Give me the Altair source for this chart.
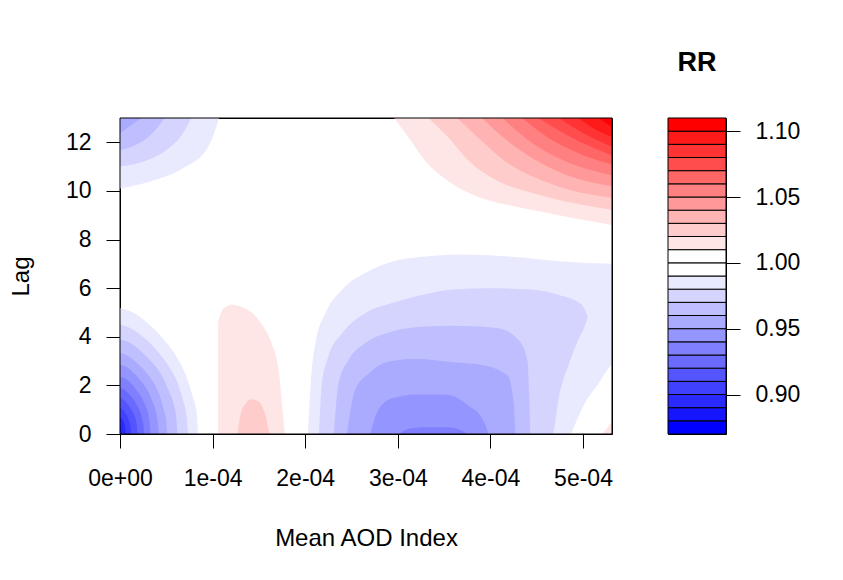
import json

import altair as alt
import pandas as pd

FONT = "Liberation Sans"

# colour key: RR band edges (0.01 apart) and the fill of each band
rr_edges = [0.87, 0.88, 0.89, 0.90, 0.91, 0.92, 0.93, 0.94, 0.95, 0.96, 0.97, 0.98,
            0.99, 1.00, 1.01, 1.02, 1.03, 1.04, 1.05, 1.06, 1.07, 1.08, 1.09, 1.10, 1.11]
rr_colors = ["#0000FF", "#1515FF", "#2A2AFF", "#4040FF", "#5555FF", "#6A6AFF",
             "#8080FF", "#9595FF", "#AAAAFF", "#BFBFFF", "#D4D4FF", "#EAEAFF",
             "#FFFFFF", "#FFFFFF",
             "#FFE6E6", "#FFCCCC", "#FFB3B3", "#FF9999", "#FF8080", "#FF6666",
             "#FF4D4D", "#FF3333", "#FF1A1A", "#FF0000"]
rr_ticks = [0.90, 0.95, 1.00, 1.05, 1.10]

aod_ticks = [0, 1e-4, 2e-4, 3e-4, 4e-4, 5e-4]
aod_tick_labels = ["0e+00", "1e-04", "2e-04", "3e-04", "4e-04", "5e-04"]
lag_ticks = [0, 2, 4, 6, 8, 10, 12]
AOD_MAX = 5.313e-4
LAG_MAX = 13

# contour regions: (RR of the band inside, [(AOD x1e-4, lag), ...])
# low-AOD, short-lag trough, filled down to lag 0
trough_left = [
    (0.985, [(0, 5.18), (0.15, 4.98), (0.30, 4.56), (0.475, 3.88), (0.62, 3.12), (0.71, 2.43), (0.78, 1.6), (0.83, 0.78), (0.843, 0)]),
    (0.975, [(0, 4.5), (0.13, 4.32), (0.26, 3.96), (0.41, 3.38), (0.54, 2.7), (0.62, 2.12), (0.68, 1.4), (0.72, 0.68), (0.734, 0)]),
    (0.965, [(0, 3.9), (0.11, 3.74), (0.22, 3.43), (0.35, 2.93), (0.46, 2.34), (0.52, 1.83), (0.58, 1.21), (0.61, 0.59), (0.62, 0)]),
    (0.955, [(0, 3.33), (0.09, 3.2), (0.18, 2.93), (0.29, 2.5), (0.38, 2.0), (0.43, 1.57), (0.47, 1.03), (0.50, 0.5), (0.51, 0)]),
    (0.945, [(0, 2.85), (0.08, 2.74), (0.15, 2.51), (0.235, 2.14), (0.31, 1.71), (0.35, 1.34), (0.39, 0.88), (0.41, 0.43), (0.42, 0)]),
    (0.935, [(0, 2.36), (0.06, 2.27), (0.12, 2.08), (0.185, 1.77), (0.245, 1.42), (0.28, 1.11), (0.31, 0.73), (0.323, 0.35), (0.33, 0)]),
    (0.925, [(0, 1.9), (0.047, 1.82), (0.09, 1.67), (0.146, 1.43), (0.19, 1.14), (0.22, 0.89), (0.24, 0.59), (0.255, 0.29), (0.26, 0)]),
    (0.915, [(0, 1.48), (0.034, 1.42), (0.067, 1.3), (0.106, 1.11), (0.14, 0.89), (0.16, 0.7), (0.177, 0.46), (0.186, 0.22), (0.19, 0)]),
    (0.905, [(0, 1.07), (0.022, 1.03), (0.042, 0.94), (0.067, 0.8), (0.089, 0.64), (0.1, 0.5), (0.112, 0.33), (0.118, 0.16), (0.12, 0)]),
    (0.895, [(0, 0.71), (0.021, 0.62), (0.044, 0.43), (0.056, 0.22), (0.06, 0)]),
    (0.885, [(0, 0.37), (0.009, 0.25), (0.015, 0)]),
]

# low-AOD, long-lag dip, filled up to lag 13
cap_left = [
    (0.985, [(0, 10.1), (0.32, 10.38), (0.68, 10.93), (0.93, 11.68), (1.0, 12.2), (1.07, 13)]),
    (0.975, [(0, 11.0), (0.25, 11.2), (0.5, 11.68), (0.68, 12.37), (0.77, 13)]),
    (0.965, [(0, 11.68), (0.17, 11.89), (0.35, 12.37), (0.48, 13)]),
    (0.955, [(0, 12.37), (0.1, 12.65), (0.23, 13)]),
]

# small excess around 1.4e-04, filled down to lag 0
bump = [
    (1.015, [(1.06, 4.63), (1.12, 5.18), (1.21, 5.32), (1.33, 5.2), (1.45, 4.9), (1.55, 4.4), (1.63, 3.8), (1.72, 2.43), (1.75, 1.2), (1.77, 0.4), (1.78, 0)]),
    (1.025, [(1.27, 0), (1.30, 0.78), (1.36, 1.27), (1.41, 1.43), (1.5, 1.33), (1.57, 0.78), (1.61, 0.1), (1.62, 0)]),
]

# mid-AOD trough: (AOD x1e-4, lower lag, upper lag)
trough_mid = [
    (0.985, [(2.03, 0, 0), (2.06, 0, 2.09), (2.11, 0, 3.74), (2.22, 0, 4.98), (2.4, 0, 5.94), (2.65, 0, 6.63), (2.94, 0, 7.1), (3.3, 0, 7.3), (3.69, 0, 7.38), (4.2, 0, 7.3), (4.77, 0, 7.1), (5.31, 0, 7.0)]),
    (0.975, [(2.15, 0, 0), (2.18, 0, 2.09), (2.25, 0, 3.19), (2.4, 0, 4.15), (2.65, 0, 4.98), (2.94, 0, 5.39), (3.3, 0, 5.75), (3.59, 0, 5.94), (4.0, 0, 6.0), (4.4, 0, 5.95), (4.67, 0, 5.8), (4.74, 1.54, 5.72), (4.85, 2.9, 5.6), (4.95, 3.88, 5.42), (5.01, 4.35, 5.2), (5.05, 4.8, 4.8)]),
    (0.965, [(2.31, 0, 0), (2.36, 0, 2.09), (2.47, 0, 3.05), (2.65, 0, 3.74), (2.94, 0, 4.22), (3.3, 0, 4.42), (3.59, 0, 4.45), (4.07, 0, 4.36), (4.32, 0, 3.8), (4.4, 0, 3.0), (4.42, 0, 1.5), (4.43, 0, 0)]),
    (0.955, [(2.45, 0, 0), (2.54, 0, 1.81), (2.69, 0, 2.5), (2.9, 0, 2.98), (3.2, 0, 3.1), (3.59, 0, 2.95), (3.89, 0, 2.85), (4.18, 0, 2.43), (4.25, 0, 1.33), (4.27, 0, 0)]),
    (0.945, [(2.70, 0, 0), (2.79, 0, 0.99), (2.94, 0, 1.47), (3.2, 0, 1.63), (3.53, 0, 1.61), (3.75, 0, 1.2), (3.93, 0, 0.51), (3.98, 0, 0)]),
    (0.935, [(3.02, 0, 0), (3.1, 0, 0.2), (3.3, 0, 0.28), (3.55, 0, 0.28), (3.7, 0, 0.12), (3.75, 0, 0)]),
]

# bottom-right corner back to null and a sliver above it, filled down to lag 0
corner = [
    (1.005, [(4.87, 0), (5.02, 1.27), (5.17, 2.09), (5.29, 2.78), (5.31, 2.85)]),
    (1.015, [(5.21, 0), (5.27, 0.3), (5.31, 0.5)]),
]

# high-AOD, long-lag excess, filled up to lag 13
cap_right = [
    (1.015, [(2.96, 13), (3.12, 12.18), (3.30, 11.22), (3.55, 10.39), (3.91, 9.7), (4.27, 9.36), (4.63, 9.08), (4.99, 8.81), (5.31, 8.6)]),
    (1.025, [(3.33, 13), (3.55, 12.18), (3.77, 11.22), (4.09, 10.39), (4.45, 9.91), (4.81, 9.57), (5.31, 9.23)]),
    (1.035, [(3.64, 13), (3.91, 12.04), (4.16, 11.22), (4.45, 10.6), (4.85, 10.05), (5.31, 9.72)]),
    (1.045, [(3.91, 13), (4.19, 12.04), (4.45, 11.35), (4.81, 10.67), (5.31, 10.2)]),
    (1.055, [(4.13, 13), (4.45, 11.97), (4.81, 11.22), (5.31, 10.64)]),
    (1.065, [(4.34, 13), (4.63, 12.18), (4.99, 11.49), (5.31, 11.1)]),
    (1.075, [(4.52, 13), (4.85, 12.25), (5.31, 11.46)]),
    (1.085, [(4.74, 13), (5.03, 12.32), (5.31, 11.83)]),
    (1.095, [(4.95, 13), (5.17, 12.45), (5.31, 12.22)]),
    (1.105, [(5.17, 13), (5.31, 12.63)]),
]

rr_scale = alt.Scale(type="threshold", domain=rr_edges[1:-1], range=rr_colors)
label_expr = "%s[round(datum.value * 10000)]" % json.dumps(aod_tick_labels)

x_enc = alt.X("aod:Q",
              scale=alt.Scale(domain=[0, AOD_MAX], nice=False, zero=False),
              axis=alt.Axis(values=aod_ticks, labelExpr=label_expr, tickSize=14,
                            labelFlush=False, labelPadding=19, titlePadding=36,
                            title="Mean AOD Index"))
y_enc = alt.Y("hi:Q",
              scale=alt.Scale(domain=[0, LAG_MAX], nice=False, zero=False),
              axis=alt.Axis(values=lag_ticks, tickSize=14, labelPadding=15,
                            labelFlush=False, titlePadding=32, title="Lag"))


def region(rr, rows):
    df = pd.DataFrame(rows, columns=["aod", "lo", "hi"])
    df["aod"] = df["aod"] * 1e-4
    df["rr"] = rr
    return alt.Chart(df).mark_area(interpolate="monotone", clip=True).encode(
        x_enc, y_enc, alt.Y2("lo:Q"),
        color=alt.Color("rr:Q", scale=rr_scale, legend=None),
    )


layers = []
for rr, pts in trough_left + bump:
    layers.append(region(rr, [(a, 0, lag) for a, lag in pts]))
for rr, pts in cap_left:
    layers.append(region(rr, [(a, lag, LAG_MAX) for a, lag in pts]))
for rr, pts in trough_mid:
    layers.append(region(rr, pts))
for rr, pts in corner:
    layers.append(region(rr, [(a, 0, lag) for a, lag in pts]))
for rr, pts in cap_right:
    layers.append(region(rr, [(a, lag, LAG_MAX) for a, lag in pts]))

# box round the plot, drawn over the fills
frame = pd.DataFrame({"aod": [0], "aod2": [AOD_MAX], "lo": [0], "hi": [LAG_MAX]})
layers.append(
    alt.Chart(frame).mark_rect(filled=False, stroke="black", strokeWidth=1).encode(
        x_enc, alt.X2("aod2:Q"), y_enc, alt.Y2("lo:Q")
    )
)

surface = alt.layer(*layers).properties(width=492, height=316)

bands = pd.DataFrame({"lo": rr_edges[:-1], "hi": rr_edges[1:]})
bands["rr"] = (bands["lo"] + bands["hi"]) / 2

key = alt.Chart(bands).mark_rect(stroke="black", strokeWidth=1).encode(
    alt.Y("lo:Q")
        .scale(domain=[rr_edges[0], rr_edges[-1]], nice=False, zero=False)
        .axis(orient="right", values=rr_ticks, format=".2f", tickSize=14,
              labelPadding=15, labelFlush=False, title=None),
    alt.Y2("hi:Q"),
    color=alt.Color("rr:Q", scale=rr_scale, legend=None),
).properties(
    width=58, height=316,
    title=alt.Title("RR", fontSize=27, fontWeight="bold", anchor="middle", offset=41),
)

chart = alt.hconcat(surface, key, spacing=56, bounds="flush").properties(
    padding={"left": 0, "top": 40, "right": 5, "bottom": 5}
).configure_view(
    stroke="black", strokeWidth=1
).configure_axis(
    labelFont=FONT, titleFont=FONT, labelFontSize=23, titleFontSize=24,
    labelColor="black", titleColor="black", tickColor="black",
    titleFontWeight="normal", grid=False, domain=False,
).configure_title(font=FONT, color="black")

chart.save("out.html", embed_options={"renderer": "svg", "actions": False})
